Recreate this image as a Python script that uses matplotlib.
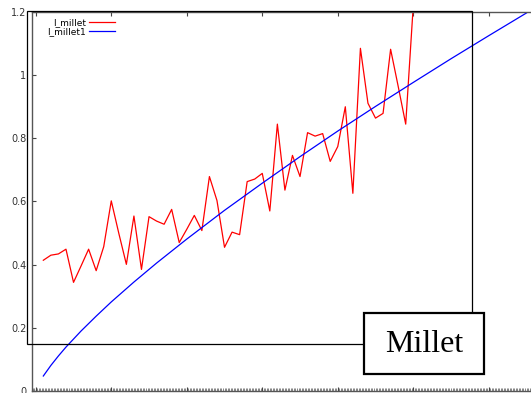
"""Millet index chart: observed series against fitted curve."""
import numpy as np
import matplotlib
matplotlib.use("Agg")
import matplotlib.pyplot as plt
from matplotlib.patches import Rectangle
from matplotlib.ticker import MultipleLocator

# observed series (index 1..50)
millet_x = list(range(1, 51))
millet_y = [0.414, 0.430, 0.434, 0.449, 0.344, 0.396, 0.449, 0.381, 0.457, 0.602,
            0.499, 0.401, 0.554, 0.385, 0.552, 0.538, 0.528, 0.575, 0.470, 0.512,
            0.556, 0.508, 0.679, 0.603, 0.455, 0.503, 0.495, 0.663, 0.671, 0.689,
            0.570, 0.845, 0.636, 0.746, 0.679, 0.818, 0.807, 0.815, 0.727, 0.774,
            0.900, 0.626, 1.085, 0.911, 0.864, 0.879, 1.082, 0.965, 0.845, 1.220]

# fitted curve
fit_x = [1, 2, 3, 4, 6, 8, 10, 13, 16, 20, 25, 30, 35, 40, 45, 50, 55, 60, 65]
fit_y = [0.0475, 0.081, 0.111, 0.139, 0.190, 0.237, 0.282, 0.345, 0.405, 0.481,
         0.572, 0.658, 0.742, 0.823, 0.901, 0.977, 1.052, 1.125, 1.197]

W, H = 531, 393


def fx(px):
    return px / W


def fy(py):
    return 1 - py / H


fig = plt.figure(figsize=(W / 100, H / 100), dpi=100)
ax = fig.add_axes([fx(32), fy(391), (545 - 32) / W, (391 - 12) / H])

ax.plot(millet_x, millet_y, color='red', lw=0.9, label='I_millet')
ax.plot(fit_x, fit_y, color='blue', lw=0.9, label='I_millet1')

ax.set_xlim(-0.5, 67.45)
ax.set_ylim(0, 1.2)
ax.set_yticks([0, 0.2, 0.4, 0.6, 0.8, 1.0, 1.2])
ax.set_yticklabels(['0', '0.2', '0.4', '0.6', '0.8', '1', '1.2'])
ax.xaxis.set_major_locator(MultipleLocator(10))
ax.xaxis.set_minor_locator(MultipleLocator(0.2))
ax.set_xticklabels([])

for s in ax.spines.values():
    s.set_color('#555555')
    s.set_linewidth(1.0)

ax.tick_params(which='major', direction='in', length=3, width=0.8, color='#444444',
               top=True, labelsize=7, labelcolor='#333333', pad=4)
ax.tick_params(which='minor', direction='in', length=2, width=0.5, color='#555555',
               top=False)
ax.tick_params(axis='y', which='minor', left=False)

ax.legend(loc='upper left', bbox_to_anchor=(0.018, 1.0), frameon=False, fontsize=6.5,
          markerfirst=False, handlelength=2.8, handletextpad=0.4, labelspacing=0.05,
          borderaxespad=0.35, borderpad=0.3)

# outer frame drawn over the plot
frame = Rectangle((fx(27), fy(344)), (472 - 27) / W, (344 - 11) / H,
                  transform=fig.transFigure, fill=False, edgecolor='black', lw=0.9)
fig.patches.append(frame)

# label box
box = Rectangle((fx(364), fy(374)), (484 - 364) / W, (374 - 313) / H,
                transform=fig.transFigure, facecolor='white', edgecolor='black',
                lw=1.6, zorder=5)
fig.patches.append(box)
fig.text(fx(424), fy(344), 'Millet', family='Liberation Serif', fontsize=23,
         ha='center', va='center', zorder=6)

fig.savefig('out.png', dpi=100)
